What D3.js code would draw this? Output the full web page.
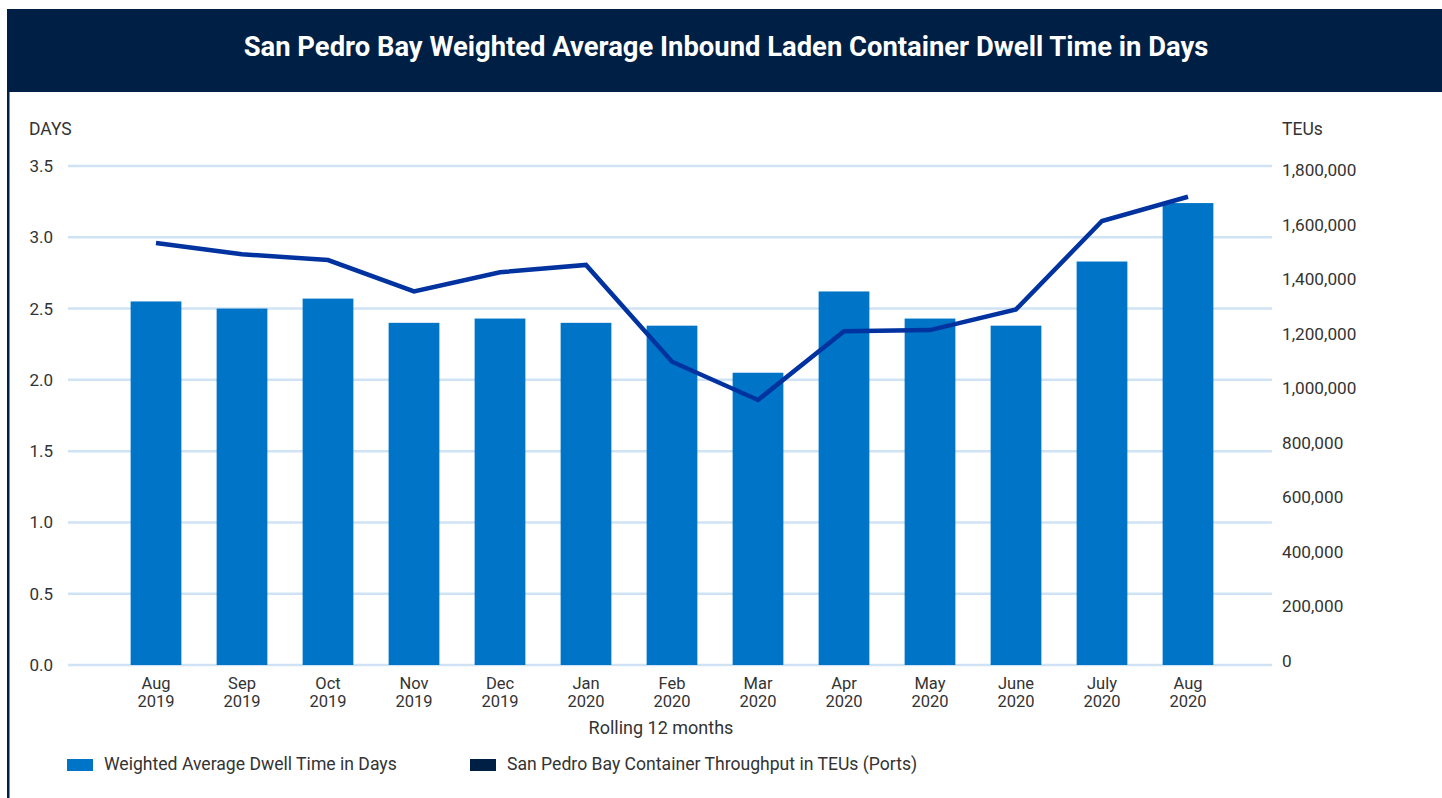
<!DOCTYPE html>
<html>
<head>
<meta charset="utf-8">
<script src="https://cdn.jsdelivr.net/npm/d3@7"></script>
<style>
  body { margin: 0; background: #fff; }
  text { font-family: Roboto, "Liberation Sans", sans-serif; }
</style>
</head>
<body>
<script>
var width = 1442,
    height = 798;

var months = ["Aug 2019", "Sep 2019", "Oct 2019", "Nov 2019", "Dec 2019", "Jan 2020", "Feb 2020",
              "Mar 2020", "Apr 2020", "May 2020", "June 2020", "July 2020", "Aug 2020"];
var dwellDays = [2.55, 2.50, 2.57, 2.40, 2.43, 2.40, 2.38, 2.05, 2.62, 2.43, 2.38, 2.83, 3.24];
var teus = [1532000, 1491000, 1470000, 1355000, 1425000, 1452000, 1097000,
            957000, 1209000, 1213000, 1289000, 1613000, 1702000];
var daysTicks = [0, 0.5, 1, 1.5, 2, 2.5, 3, 3.5];
var teuTicks = [0, 200000, 400000, 600000, 800000, 1000000, 1200000, 1400000, 1600000, 1800000];
var legendItems = ["Weighted Average Dwell Time in Days", "San Pedro Bay Container Throughput in TEUs (Ports)"];

var svg = d3.select("body").append("svg")
    .attr("width", width)
    .attr("height", height);

// banner + left border
svg.append("rect").attr("x", 7).attr("y", 9).attr("width", width - 7).attr("height", 83).attr("fill", "#001f45");
svg.append("rect").attr("x", 7).attr("y", 91).attr("width", 2.5).attr("height", height - 91).attr("fill", "#001f45");
svg.append("text")
    .attr("x", 726).attr("y", 56)
    .attr("text-anchor", "middle")
    .attr("fill", "#fff")
    .attr("font-size", 27.4)
    .attr("font-weight", "bold")
    .text("San Pedro Bay Weighted Average Inbound Laden Container Dwell Time in Days");

var x = d3.scaleBand().domain(months).range([113, 1231]).paddingInner(0.41).paddingOuter(0.205);
var yL = d3.scaleLinear().domain([0, 3.5]).range([665, 166]);
var yR = d3.scaleLinear().domain([0, 1800000]).range([661, 170]);

// gridlines
svg.append("g").selectAll("line").data(daysTicks).enter().append("line")
    .attr("x1", 68).attr("x2", 1272)
    .attr("y1", d => yL(d)).attr("y2", d => yL(d))
    .attr("stroke", "#d0e3f4").attr("stroke-width", 2.5);

// left axis
var axL = svg.append("g").attr("transform", "translate(53,0)")
    .call(d3.axisLeft(yL).tickValues(daysTicks).tickFormat(d3.format(".1f")).tickSize(0).tickPadding(0));
axL.select(".domain").remove();
axL.selectAll("text").attr("font-size", 17).attr("fill", "#333").attr("font-family", "Roboto, sans-serif");

// right axis
var axR = svg.append("g").attr("transform", "translate(1282,0)")
    .call(d3.axisRight(yR).tickValues(teuTicks).tickFormat(d3.format(",")).tickSize(0).tickPadding(0));
axR.select(".domain").remove();
axR.selectAll("text").attr("font-size", 17.2).attr("fill", "#333").attr("font-family", "Roboto, sans-serif");

svg.append("text").attr("x", 29).attr("y", 135).attr("font-size", 17.5).attr("fill", "#333").text("DAYS");
svg.append("text").attr("x", 1282).attr("y", 135).attr("font-size", 17.5).attr("fill", "#333").text("TEUs");

// bars
svg.append("g").selectAll("rect").data(months).enter().append("rect")
    .attr("x", d => x(d))
    .attr("width", x.bandwidth())
    .attr("y", (d, i) => yL(dwellDays[i]))
    .attr("height", (d, i) => yL(0) - yL(dwellDays[i]))
    .attr("fill", "#0074c6");

// line
var line = d3.line()
    .x((d, i) => x(months[i]) + x.bandwidth() / 2)
    .y(d => yR(d));
svg.append("path")
    .attr("d", line(teus))
    .attr("fill", "none")
    .attr("stroke", "#0033a0")
    .attr("stroke-width", 4.5);

// x labels
var xl = svg.append("g").selectAll("text").data(months).enter().append("text")
    .attr("text-anchor", "middle")
    .attr("font-size", 16.5)
    .attr("fill", "#333");
xl.append("tspan").attr("x", d => x(d) + x.bandwidth() / 2).attr("y", 689).text(d => d.split(" ")[0]);
xl.append("tspan").attr("x", d => x(d) + x.bandwidth() / 2).attr("y", 707).text(d => d.split(" ")[1]);

svg.append("text").attr("x", 661).attr("y", 734).attr("text-anchor", "middle")
    .attr("font-size", 18).attr("fill", "#333").text("Rolling 12 months");

// legend
var lg = svg.append("g");
var lx = [67, 470], lc = ["#0074c6", "#001f45"];
legendItems.forEach(function (t, i) {
    lg.append("rect").attr("x", lx[i]).attr("y", 759).attr("width", 26).attr("height", 12).attr("fill", lc[i]);
    lg.append("text").attr("x", lx[i] + 37).attr("y", 770).attr("font-size", 17.6).attr("fill", "#333").text(t);
});
</script>
</body>
</html>
